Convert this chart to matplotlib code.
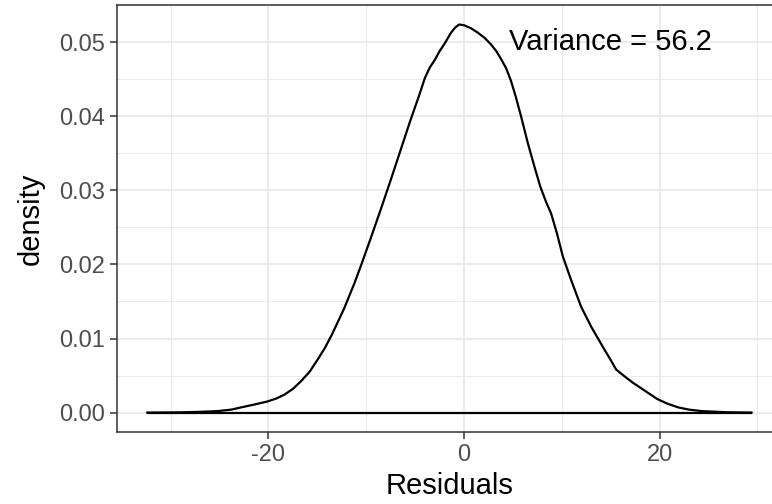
#!/usr/bin/env python3
"""Density of model residuals, drawn in a ggplot theme_bw look."""

import matplotlib

matplotlib.use("Agg")
import matplotlib.pyplot as plt
from matplotlib.ticker import MultipleLocator


# Values.
residual_x = [
    -32.4, -29.0, -27.0, -25.2, -23.8, -22.8, -21.4, -20.1, -19.2, -18.4,
    -17.5, -16.7, -15.8, -15.0, -14.2, -13.45, -12.25, -11.2, -10.5, -9.5,
    -8.5, -7.5, -6.5, -5.5, -4.6, -4.0, -3.5, -3.0, -2.5, -2.0, -1.33, -0.9,
    -0.5, 0.0, 0.7, 1.4, 2.1, 2.76, 3.3, 3.8, 4.3, 4.8, 5.3, 5.83, 6.52, 7.2,
    7.8, 8.4, 8.9, 9.5, 10.1, 10.95, 11.97, 13.0, 14.36, 15.0, 15.56, 16.6,
    17.3, 18.1, 19.0, 19.8, 20.8, 21.9, 23.0, 24.3, 26.8, 29.4,
]
density_y = [
    0.0, 0.00003, 0.0001, 0.0002, 0.0004, 0.0007, 0.0011, 0.0015, 0.0019,
    0.0024, 0.0032, 0.0042, 0.0055, 0.0071, 0.0088, 0.0107, 0.0141, 0.0175,
    0.0200, 0.0237, 0.0275, 0.0314, 0.0354, 0.0394, 0.0428, 0.0452, 0.0466,
    0.0476, 0.0488, 0.0498, 0.0513, 0.0520, 0.0524, 0.0523, 0.0519, 0.0513,
    0.0506, 0.0497, 0.0488, 0.0477, 0.0465, 0.0448, 0.0426, 0.0400, 0.0364,
    0.0332, 0.0305, 0.0284, 0.0269, 0.0242, 0.0211, 0.0179, 0.0143, 0.0116,
    0.0085, 0.0071, 0.0058, 0.0047, 0.0040, 0.0033, 0.0025, 0.0018, 0.0012,
    0.0007, 0.0004, 0.0002, 0.00005, 0.0,
]
x_ticks = [-20, 0, 20]
y_ticks = [0.00, 0.01, 0.02, 0.03, 0.04, 0.05]
variance_label = "Variance = 56.2"
label_pos = (15, 0.05)

GRID = "#EBEBEB"
DARK = "#333333"
TICK_TEXT = "#4D4D4D"

plt.rcParams["font.family"] = ["Liberation Sans", "DejaVu Sans"]

fig = plt.figure(figsize=(7.72, 5.04), dpi=100)
ax = fig.add_axes([0.1516, 0.1429, 0.861, 0.847])

ax.plot(residual_x, density_y, color="black", lw=1.6, solid_joinstyle="round", zorder=3)
ax.hlines(0, min(residual_x), max(residual_x), color="black", lw=1.6, zorder=3)
ax.margins(x=0.05, y=0.05)

ax.text(label_pos[0], label_pos[1], variance_label, ha="center", va="center",
        fontsize=21, color="black")

ax.set_xticks(x_ticks)
ax.set_xticklabels([f"{t:g}" for t in x_ticks])
ax.set_yticks(y_ticks)
ax.set_yticklabels([f"{t:.2f}" for t in y_ticks])
ax.xaxis.set_minor_locator(MultipleLocator(10))
ax.yaxis.set_minor_locator(MultipleLocator(0.005))

ax.grid(which="major", color=GRID, lw=1.5)
ax.grid(which="minor", color=GRID, lw=0.75)
ax.set_axisbelow(True)

ax.tick_params(which="major", length=5, width=1.1, color=DARK, labelcolor=TICK_TEXT,
               labelsize=17, pad=4)
ax.tick_params(which="minor", length=0)
for spine in ax.spines.values():
    spine.set_color(DARK)
    spine.set_linewidth(1.1)

ax.set_xlabel("Residuals", fontsize=21, labelpad=4)
ax.set_ylabel("density", fontsize=21, labelpad=10)

fig.savefig("out.png", dpi=100)
